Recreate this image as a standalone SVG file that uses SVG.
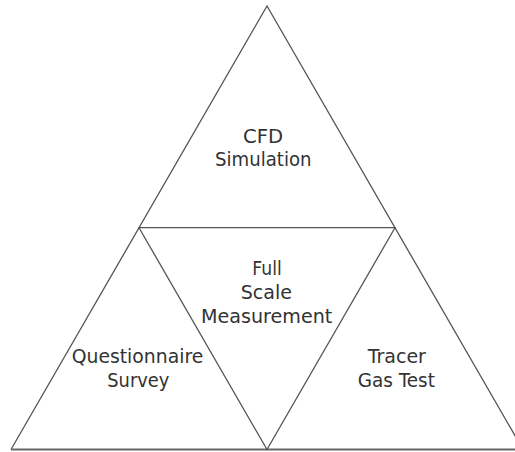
<svg xmlns="http://www.w3.org/2000/svg" width="515" height="452" viewBox="0 0 515 452">
  <style>
    .edge { fill: none; stroke: #555; stroke-width: 1.3; stroke-linejoin: miter; }
    .base { fill: none; stroke: #666; stroke-width: 1.8; }
    .label { font-family: "DejaVu Sans", "Liberation Sans", sans-serif; font-size: 19px; fill: #333; text-anchor: middle; }
  </style>
  <rect width="515" height="452" fill="#fff"/>
  <g id="connectors">
    <!-- outer triangle sides -->
    <path class="edge" d="M11,449.5 L267,6 L523,449.5"/>
    <!-- base -->
    <path class="base" d="M11,449.5 L523,449.5"/>
    <!-- inner inverted triangle -->
    <path class="edge" d="M139,227.7 L395,227.7 L267,449.5 Z"/>
  </g>
  <g id="cfd-simulation">
    <text class="label" x="263" y="142.5" textLength="40" lengthAdjust="spacingAndGlyphs">CFD</text>
    <text class="label" x="263.3" y="166" textLength="96.5" lengthAdjust="spacingAndGlyphs">Simulation</text>
  </g>
  <g id="full-scale-measurement">
    <text class="label" x="267" y="275.3" textLength="29.4" lengthAdjust="spacingAndGlyphs">Full</text>
    <text class="label" x="266.3" y="299" textLength="51.3" lengthAdjust="spacingAndGlyphs">Scale</text>
    <text class="label" x="266.7" y="322.7" textLength="131.3" lengthAdjust="spacingAndGlyphs">Measurement</text>
  </g>
  <g id="questionnaire-survey">
    <text class="label" x="137.5" y="363.3" textLength="131.6" lengthAdjust="spacingAndGlyphs">Questionnaire</text>
    <text class="label" x="138.3" y="387" textLength="62" lengthAdjust="spacingAndGlyphs">Survey</text>
  </g>
  <g id="tracer-gas-test">
    <text class="label" x="396.8" y="363.3" textLength="58.3" lengthAdjust="spacingAndGlyphs">Tracer</text>
    <text class="label" x="396.3" y="387" textLength="77.3" lengthAdjust="spacingAndGlyphs">Gas Test</text>
  </g>
</svg>
